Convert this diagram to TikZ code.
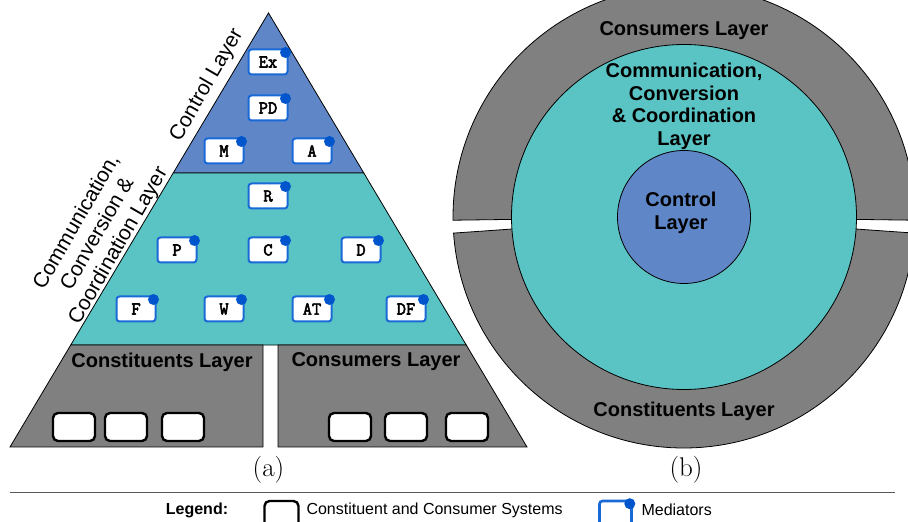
\documentclass[tikz,border=0pt]{standalone}
\usepackage{fontspec}
\usetikzlibrary{calc}
\newfontfamily\labelfont{Liberation Sans}
\newfontfamily\codefont[FakeBold=3]{Latin Modern Mono}
\definecolor{ctrlblue}{RGB}{95,135,200}
\definecolor{tealc}{RGB}{90,196,196}
\definecolor{layergray}{RGB}{128,128,128}
\definecolor{medblue}{RGB}{25,105,215}
\definecolor{dotblue}{RGB}{0,85,205}
\tikzset{
	layer/.style={draw=black,line width=0.8pt},
	mediator/.style={draw=medblue,line width=2pt,fill=white,rounded corners=3pt,minimum width=39pt,minimum height=25pt,inner sep=0pt,font=\codefont\bfseries\fontsize{18}{18}\selectfont},
	system/.style={draw=black,line width=2.4pt,fill=white,rounded corners=5pt,minimum width=42pt,minimum height=28pt,inner sep=0pt},
	layerlabel/.style={font=\labelfont\bfseries\fontsize{20}{22.5}\selectfont,align=center},
	sidelabel/.style={rotate=60,align=center,font=\labelfont\fontsize{21}{24}\selectfont},
	legendtext/.style={anchor=west,font=\labelfont\fontsize{16}{16}\selectfont}
}
\begin{document}
\begin{tikzpicture}[x=1pt,y=1pt]
		\path[use as bounding box,clip] (0,0) rectangle (908,522);
	
		\coordinate (apex) at (268.5,509);
		\coordinate (bl) at (10,75);
		\coordinate (br) at (527,75);
		
		\draw[layer,fill=ctrlblue] (apex) -- ($(apex)!0.3687!(bl)$) -- ($(apex)!0.3687!(br)$) -- cycle;
		\draw[layer,fill=tealc] ($(apex)!0.3687!(bl)$) -- ($(apex)!0.765!(bl)$) -- ($(apex)!0.765!(br)$) -- ($(apex)!0.3687!(br)$) -- cycle;
		\draw[layer,fill=layergray] ($(apex)!0.765!(bl)$) -- (263,177) -- (263,75) -- (bl) -- cycle;
		\draw[layer,fill=layergray] (278,177) -- ($(apex)!0.765!(br)$) -- (br) -- (278,75) -- cycle;
		
		\foreach \name/\x/\y in {Ex/268/460,PD/268/414,M/224/371,A/312/371,R/268/326,P/177/272,C/268/272,D/361/272,F/136/213,W/224/213,AT/312/213,DF/406/213}{
			\node[mediator] (\name) at (\x,\y) {\name};
			\fill[dotblue] ([xshift=-3pt,yshift=-4pt]\name.north east) circle (5.5pt);
		}
		
		\foreach \name/\x in {sa/74,sb/126,sc/183,sd/350,se/406,sf/467}
			\node[system] (\name) at (\x,95) {};
		
		\node[layerlabel] (constL) at (162,160) {Constituents Layer};
		\node[layerlabel] (consL) at (376,160) {Consumers Layer};
		
		\node[sidelabel] (ctrlL) at (207,437) {Control Layer};
		\node[sidelabel] (commL) at (98,288) {Communication,\\Conversion \&\\Coordination Layer};
		
		\coordinate (ctr) at (684,305);
		\draw[layer,fill=layergray] ($(ctr)+(-0.8:231pt)$) arc[start angle=-0.8,end angle=180.8,radius=231pt] -- ($(ctr)+(180.8:172pt)$) arc[start angle=180.8,end angle=-0.8,radius=172pt] -- cycle;
		\draw[layer,fill=layergray] ($(ctr)+(184:231pt)$) arc[start angle=184,end angle=356,radius=231pt] -- ($(ctr)+(356:172pt)$) arc[start angle=356,end angle=184,radius=172pt] -- cycle;
		\draw[layer,fill=tealc] (ctr) circle (172.5pt);
		\draw[layer,fill=ctrlblue] (ctr) circle (66.5pt);
		
		\node[layerlabel] (consR) at (684,491) {Consumers Layer};
		\node[layerlabel] (commR) at (684,415.5) {Communication,\\Conversion\\\& Coordination\\Layer};
		\node[layerlabel] (ctrlR) at (681,309) {Control\\Layer};
		\node[layerlabel] (constR) at (684,111) {Constituents Layer};
		
		\node[font=\fontsize{27}{27}\selectfont] (capa) at (268.5,52) {(a)};
		\node[font=\fontsize{27}{27}\selectfont] (capb) at (686,52) {(b)};
		
		\draw[black!65,line width=1pt] (10,29) -- (895,29);
		
		\node[font=\labelfont\bfseries\fontsize{16}{16}\selectfont] (legend) at (197,12) {Legend:};
		\node[system,minimum width=34pt,minimum height=28pt] (legsys) at (281.5,7) {};
		\node[legendtext] (legsystxt) at (303,12) {Constituent and Consumer Systems};
		\node[mediator,line width=2.6pt,minimum width=32pt,minimum height=28pt] (legmed) at (615.5,7) {};
		\fill[dotblue] ([xshift=-3pt,yshift=-4pt]legmed.north east) circle (5.5pt);
		\node[legendtext] (legmedtxt) at (638,12) {Mediators};
	\end{tikzpicture}
\end{document}
